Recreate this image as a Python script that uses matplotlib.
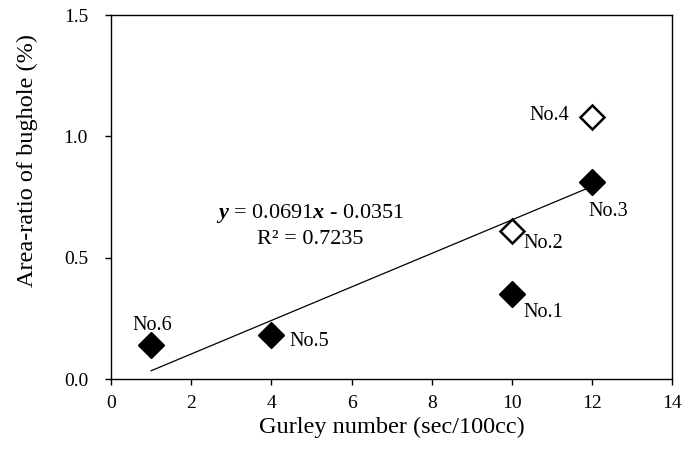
import matplotlib
matplotlib.use("Agg")
import matplotlib.pyplot as plt
import numpy as np

plt.rcParams['font.family'] = ['Liberation Serif', 'DejaVu Serif']
plt.rcParams['mathtext.fontset'] = 'custom'
plt.rcParams['mathtext.rm'] = 'Liberation Serif'
plt.rcParams['mathtext.it'] = 'Liberation Serif:italic'
plt.rcParams['mathtext.bf'] = 'Liberation Serif:bold:italic'

# samples: Gurley number vs bughole area ratio
names = ['No.1', 'No.2', 'No.3', 'No.4', 'No.5', 'No.6']
gurley = [10, 10, 12, 12, 4, 1]
area = [0.35, 0.61, 0.81, 1.08, 0.18, 0.14]
filled = [True, False, True, False, True, True]

# trendline fitted on the filled points
slope = 0.0691
intercept = -0.0351
r2 = 0.7235
trend_x = [1, 12]

# label positions (data coords)
label_pos = {'No.1': (10.78, 0.276), 'No.2': (10.78, 0.56), 'No.3': (12.4, 0.692),
             'No.4': (10.93, 1.084), 'No.5': (4.94, 0.154), 'No.6': (1.04, 0.222)}

fig = plt.figure(figsize=(6.83, 4.55), dpi=100)
ax = fig.add_axes([0.1625, 0.167, 0.822, 0.8])

tx = np.array(trend_x)
ax.plot(tx, slope * tx + intercept, color='black', lw=0.9)

for n, x, y, f in zip(names, gurley, area, filled):
    if f:
        ax.plot(x, y, 'D', ms=13, mfc='black', mec='black', mew=1.0)
    else:
        ax.plot(x, y, 'D', ms=12.5, mfc='white', mec='black', mew=1.8)
    lx, ly = label_pos[n]
    ax.text(lx, ly, n, fontsize=14.5, ha='center', va='center')

ax.text(4.97, 0.632, r'$\mathbf{y}$ = 0.0691$\mathbf{x}$ - 0.0351' + '\nR² = %.4f' % r2,
        fontsize=16, ha='center', va='center', multialignment='center', linespacing=1.38)

ax.set_xlim(0, 14)
ax.set_ylim(0, 1.5)
ax.set_xticks(range(0, 15, 2))
ax.set_yticks([0.0, 0.5, 1.0, 1.5])
ax.set_yticklabels(['0.0', '0.5', '1.0', '1.5'])
ax.tick_params(direction='out', length=4.5, width=1, labelsize=14)
ax.tick_params(axis='x', pad=7)
ax.tick_params(axis='y', pad=12)
for s in ax.spines.values():
    s.set_linewidth(1.0)

ax.set_xlabel('Gurley number (sec/100cc)', fontsize=17.5, va='baseline')
ax.xaxis.set_label_coords(0.5, -0.148)
ax.set_ylabel('Area-ratio of bughole (%)', fontsize=17.5, va='center')
ax.yaxis.set_label_coords(-0.148, 0.60)

fig.savefig('out.png', dpi=100)
